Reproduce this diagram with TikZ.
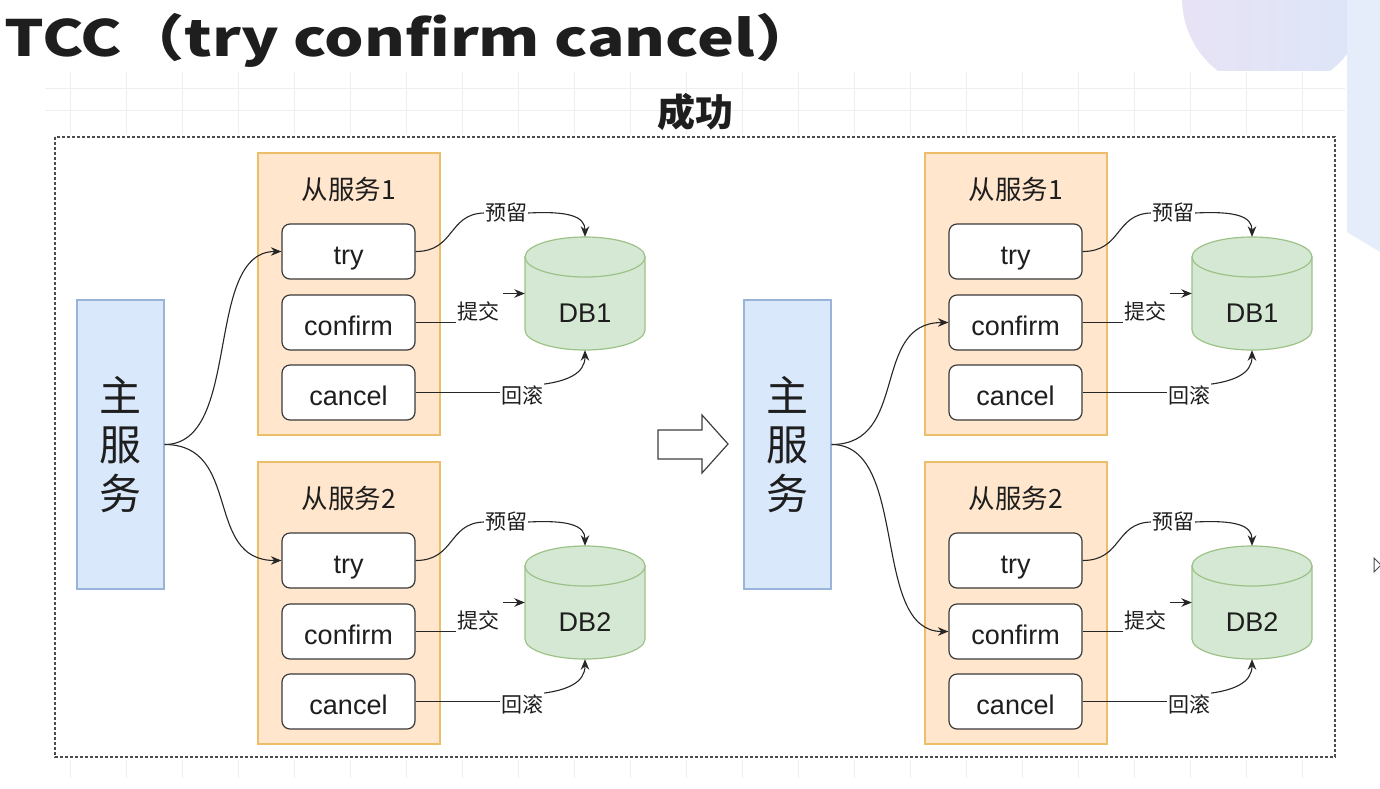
\documentclass[tikz,border=0pt]{standalone}
\usepackage{fontspec}
\setmainfont{Liberation Sans}
\newfontfamily\cjk{Noto Sans CJK SC}
\usetikzlibrary{arrows.meta,calc}
\definecolor{svcfill}{HTML}{FFE6CC}
\definecolor{svcborder}{HTML}{EDBE6A}
\definecolor{mainfill}{HTML}{DAE8FC}
\definecolor{mainborder}{HTML}{9AB3D8}
\definecolor{dbfill}{HTML}{D5E8D4}
\definecolor{dbborder}{HTML}{9CC288}
\definecolor{opborder}{HTML}{3A3A3A}
\definecolor{linec}{HTML}{262626}
\definecolor{txt}{HTML}{1E1E1E}
\definecolor{gridc}{HTML}{EEEEEE}
\definecolor{lav}{HTML}{E8E2F5}
\definecolor{lblue}{HTML}{DCE6F8}
\definecolor{band}{HTML}{E6EDFA}
\tikzset{
 svcbox/.style={draw=svcborder, fill=svcfill, line width=1.2pt, minimum width=182pt, minimum height=282pt, inner sep=0pt},
 svctitle/.style={font=\cjk\fontsize{26.5}{30}\selectfont, text=txt, inner sep=0pt},
 opbox/.style={draw=opborder, fill=white, rounded corners=8pt, line width=1.2pt, minimum width=133pt, minimum height=55pt, inner sep=0pt, text height=28pt, text depth=2pt, text=txt, font=\fontsize{27}{32}\selectfont},
 mainbox/.style={draw=mainborder, fill=mainfill, line width=1.2pt, minimum width=87pt, minimum height=289pt, align=center, text=txt, font=\cjk\fontsize{42}{49}\selectfont},
 lbl/.style={font=\cjk\fontsize{21}{24}\selectfont, inner sep=1pt, text=txt},
 dbshape/.style={minimum width=120pt, minimum height=113pt, inner sep=0pt},
 dbtext/.style={font=\fontsize{27}{32}\selectfont, text=txt, inner sep=0pt},
 conn/.style={line width=1.1pt, draw=linec},
 arr/.style={conn, -{Stealth[length=10.5pt,width=8.5pt]}},
}
\newcommand\subsvc[5]{%
 \begin{scope}[shift={(#1,#2)}]
  \node[svcbox] (svc#3) at (349,294) {};
  \node[svctitle] (svct#3) at (349,189) {#4};
  \node[opbox] (try#3) at (348.5,251.5) {try};
  \node[opbox] (conf#3) at (348.5,322.5) {confirm};
  \node[opbox] (canc#3) at (348.5,392.5) {cancel};
  % cylinder
  \path[fill=dbfill, draw=dbborder, line width=1.2pt] (525,257) -- (525,330)
     .. controls (525,341) and (552,350) .. (585,350)
     .. controls (618,350) and (645,341) .. (645,330) -- (645,257) -- cycle;
  \draw[fill=dbfill, draw=dbborder, line width=1.2pt] (585,257) ellipse [x radius=60, y radius=20];
  \node[dbshape] (db#3) at (585,293.5) {};
  \node[dbtext] (dbt#3) at (585,313) {#5};
  % labels
  \node[lbl] (yl#3) at (506,213) {预留};
  \node[lbl] (tj#3) at (478,311) {提交};
  \node[lbl] (hg#3) at (522,395) {回滚};
  \coordinate (tja#3) at (503,293.5);
  % connectors
  \draw[conn] (try#3.east) .. controls (455,251.5) and (448,214) .. (yl#3.west);
  \draw[arr] (yl#3.east) .. controls (568,211) and (585,216) .. (db#3.north);
  \draw[conn] (conf#3.east) -- (conf#3.east -| tj#3.west);
  \draw[arr] (tja#3) -- (tja#3 -| db#3.west);
  \draw[conn] (canc#3.east) -- (canc#3.east -| hg#3.west);
  \draw[arr] (hg#3.north east) .. controls (566,381) and (585,374) .. (db#3.south);
 \end{scope}}
\begin{document}
\begin{tikzpicture}[x=1pt,y=-1pt]
\useasboundingbox (0,0) rectangle (1380,788);
\fill[white] (0,0) rectangle (1380,788);
% background decoration
\begin{scope}
 \clip (1150,0) rectangle (1380,70);
 \shade[left color=lav, right color=lblue] (1274,-2) circle [radius=92];
\end{scope}
\fill[band] (1347,0) -- (1380,0) -- (1380,252) -- (1347,232) -- cycle;
% faint grid
\foreach \x in {70,126,...,1340} {
 \draw[gridc, line width=0.8pt] (\x,72) -- (\x,134);
 \draw[gridc, line width=0.8pt] (\x,760) -- (\x,778);
}
\draw[gridc, line width=0.8pt] (45,110) -- (1345,110);
\draw[gridc, line width=0.8pt] (45,88) -- (1345,88);
% title
\node[anchor=base west, inner sep=0pt, text=txt, font=\cjk\bfseries\fontsize{50}{60}\selectfont] (title) at (4,56) {\scalebox{1.245}[1]{TCC（try confirm cancel）}};
\node[inner sep=0pt, text=txt, font=\cjk\bfseries\fontsize{38}{44}\selectfont] (ok) at (695,112) {成功};
% dashed frame
\draw[draw=gray!60!black, line width=1.5pt, dash pattern=on 3pt off 2pt] (55,137) rectangle (1335,757);
% main services
\node[mainbox] (mainL) at (120.5,444.5) {主\\服\\务};
\node[mainbox] (mainR) at (787.5,444.5) {主\\服\\务};
% sub services
\subsvc{0}{0}{L1}{从服务1}{DB1}
\subsvc{0}{309}{L2}{从服务2}{DB2}
\subsvc{667}{0}{R1}{从服务1}{DB1}
\subsvc{667}{309}{R2}{从服务2}{DB2}
% main arrows
\draw[arr] (mainL.east) .. controls +(78,0) and +(-78,0) .. (tryL1.west);
\draw[arr] (mainL.east) .. controls +(78,0) and +(-78,0) .. (tryL2.west);
\draw[arr] (mainR.east) .. controls +(78,0) and +(-78,0) .. (confR1.west);
\draw[arr] (mainR.east) .. controls +(78,0) and +(-78,0) .. (confR2.west);
% big hollow arrow
\draw[fill=white, draw=gray!50!black, line width=1.2pt] (658,430) -- (702,430) -- (702,415) -- (728,444) -- (702,473) -- (702,459) -- (658,459) -- cycle;
% small cursor triangle at right edge
\draw[draw=gray!60!black, line width=1pt] (1374,558) -- (1381,565) -- (1374,572) -- cycle;
\end{tikzpicture}
\end{document}
